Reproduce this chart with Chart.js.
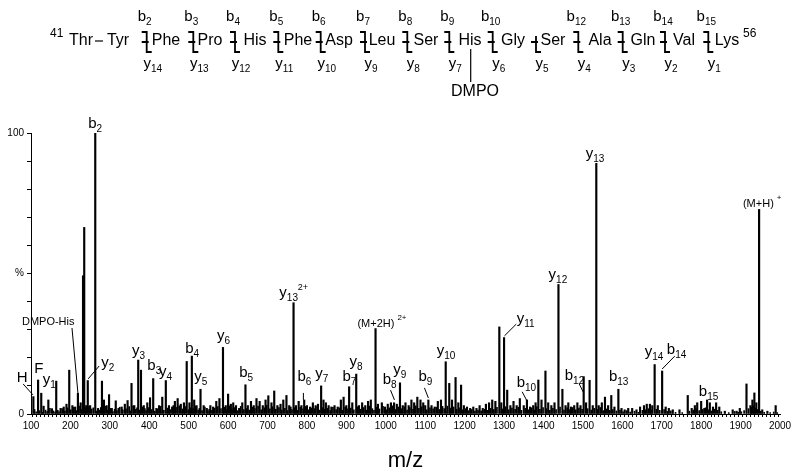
<!DOCTYPE html>
<html>
<head>
<meta charset="utf-8">
<script src="https://cdn.jsdelivr.net/npm/chart.js@4.4.1/dist/chart.umd.min.js"></script>
<style>
  html, body { margin: 0; padding: 0; background: #fff; }
  #wrap { width: 800px; height: 475px; }
</style>
</head>
<body>
<div id="wrap"><canvas id="spec" width="800" height="475"></canvas></div>
<script>
// peptide 41-56, DMPO on His50
const residues = ['Thr', 'Tyr', 'Phe', 'Pro', 'His', 'Phe', 'Asp', 'Leu', 'Ser', 'His', 'Gly', 'Ser', 'Ala', 'Gln', 'Val', 'Lys'];
const bIons = ['2', '3', '4', '5', '6', '7', '8', '9', '10', '', '12', '13', '14', '15'];
const yIons = ['14', '13', '12', '11', '10', '9', '8', '7', '6', '5', '4', '3', '2', '1'];

// x tick labels (m/z), y tick labels
const mzTicks = [100, 200, 300, 400, 500, 600, 700, 800, 900, 1000, 1100, 1200, 1300, 1400, 1500, 1600, 1700, 1800, 1900, 2000];
const pctTicks = { 0: '0', 50: '%', 100: '100' };

// main peaks [m/z, % relative intensity]
const peaks = [
  [106, 6.2], [118, 12.1], [126, 7.4], [132, 2.8], [144, 5.0], [153, 1.9], [164, 11.7], [175, 2.0], [183, 2.5],
  [190, 3.5], [197, 15.6], [205, 3.0], [212, 2.5], [219, 7.4], [226, 4.0], [232, 49.2], [235, 66.4], [240, 3.0],
  [244, 11.9], [250, 3.0], [263, 100], [270, 2.0], [280, 11.7], [285, 5.0], [292, 3.0], [298, 6.9], [305, 2.0],
  [315, 4.7], [322, 2.0], [330, 2.5], [338, 3.5], [345, 4.8], [355, 10.9], [362, 3.0], [372, 19.2], [379, 15.6],
  [386, 3.0], [395, 4.0], [402, 5.8], [410, 12.6], [418, 2.0], [425, 3.0], [433, 6.0], [442, 11.9], [450, 3.0],
  [458, 2.5], [465, 4.5], [472, 5.5], [480, 3.5], [488, 4.0], [495, 18.7], [502, 4.0], [508, 20.6], [514, 5.0],
  [520, 3.0], [530, 8.8], [538, 3.0], [546, 2.0], [555, 3.0], [562, 2.5], [570, 4.5], [578, 5.5], [587, 23.7],
  [594, 3.0], [600, 7.1], [607, 3.5], [613, 4.0], [620, 3.0], [628, 2.0], [636, 4.0], [644, 10.4], [650, 3.0],
  [658, 4.5], [665, 3.0], [672, 5.5], [680, 4.5], [688, 3.0], [695, 5.0], [702, 6.5], [710, 4.0], [717, 8.2],
  [725, 3.0], [733, 3.5], [740, 5.0], [748, 6.6], [755, 3.0], [766, 39.6], [772, 3.0], [779, 4.5], [786, 3.0],
  [793, 5.0], [800, 3.0], [808, 2.5], [815, 4.0], [822, 3.0], [828, 3.5], [836, 10.0], [842, 5.0], [848, 4.0],
  [855, 3.0], [862, 2.5], [870, 3.0], [878, 2.5], [886, 5.0], [893, 6.0], [900, 3.0], [907, 9.7], [915, 4.0],
  [925, 14.2], [932, 3.0], [940, 4.0], [948, 3.0], [955, 4.5], [962, 5.0], [974, 30.4], [980, 3.5], [990, 4.0],
  [998, 2.5], [1005, 3.5], [1013, 4.0], [1021, 4.0], [1028, 3.5], [1036, 11.1], [1043, 3.0], [1050, 4.0],
  [1058, 3.0], [1065, 5.0], [1072, 4.0], [1080, 6.0], [1088, 5.0], [1095, 4.0], [1100, 3.0], [1108, 5.0],
  [1116, 3.0], [1124, 2.5], [1132, 4.5], [1140, 5.0], [1152, 18.6], [1161, 10.9], [1168, 5.0], [1177, 13.0],
  [1184, 4.0], [1191, 10.3], [1198, 3.0], [1206, 2.5], [1214, 2.0], [1222, 2.5], [1230, 2.0], [1238, 3.0],
  [1246, 2.0], [1254, 3.5], [1262, 4.0], [1270, 5.0], [1278, 4.5], [1288, 31.0], [1293, 4.0], [1300, 27.2],
  [1308, 8.5], [1316, 3.0], [1324, 4.5], [1332, 3.0], [1340, 5.5], [1350, 3.0], [1358, 5.0], [1366, 2.5],
  [1374, 3.0], [1380, 4.0], [1387, 12.1], [1395, 5.0], [1405, 15.3], [1412, 4.0], [1420, 3.0], [1428, 4.0],
  [1438, 46.1], [1448, 8.8], [1456, 3.0], [1463, 4.0], [1470, 2.5], [1478, 3.0], [1486, 4.0], [1494, 3.0],
  [1502, 13.3], [1508, 4.0], [1517, 12.0], [1525, 3.0], [1534, 89.2], [1540, 3.0], [1548, 4.0], [1556, 6.0],
  [1564, 3.0], [1572, 6.6], [1580, 2.5], [1590, 8.8], [1598, 2.0], [1606, 1.5], [1615, 2.0], [1625, 2.0],
  [1636, 1.5], [1645, 2.5], [1655, 3.0], [1662, 3.5], [1670, 3.5], [1676, 3.0], [1682, 17.6], [1690, 3.0],
  [1701, 15.3], [1710, 2.5], [1718, 2.0], [1728, 1.5], [1745, 1.5], [1766, 6.6], [1776, 2.0], [1784, 3.0],
  [1790, 4.0], [1800, 4.5], [1808, 2.0], [1815, 5.0], [1822, 4.0], [1830, 2.5], [1838, 4.0], [1846, 2.5],
  [1860, 1.0], [1880, 1.5], [1890, 1.0], [1898, 2.0], [1915, 10.7], [1925, 3.0], [1930, 5.0], [1935, 7.5],
  [1940, 4.0], [1947, 72.8], [1955, 1.5], [1968, 1.0], [1989, 3.0]
];

// low-level chemical noise [m/z, %]
const grass = [
  [101, 1.0], [109, 1.6], [113, 0.8], [121, 1.2], [129, 0.6], [137, 1.4], [141, 0.9], [148, 2.0], [157, 1.1], [161, 0.7],
  [168, 1.3], [171, 0.8], [179, 1.9], [186, 1.0], [193, 2.2], [201, 1.5], [208, 2.4], [215, 1.2], [222, 2.8], [229, 1.6],
  [238, 2.1], [247, 2.6], [254, 1.8], [258, 2.2], [267, 1.0], [273, 1.4], [277, 2.3], [283, 1.1], [288, 2.7], [295, 1.3],
  [301, 2.0], [308, 0.9], [312, 1.7], [318, 1.2], [325, 2.4], [333, 1.5], [341, 1.8], [349, 2.6], [352, 1.1], [359, 2.9],
  [366, 1.7], [369, 2.2], [376, 1.4], [383, 2.5], [389, 1.9], [392, 1.2], [399, 2.3], [406, 1.6], [414, 1.0], [421, 1.8],
  [429, 2.7], [437, 1.3], [446, 2.1], [453, 1.6], [461, 3.0], [468, 2.4], [476, 2.9], [484, 1.8], [491, 2.6], [499, 1.5],
  [505, 2.2], [511, 1.9], [517, 2.8], [524, 1.4], [527, 2.0], [534, 1.2], [541, 2.5], [549, 1.1], [552, 1.7], [559, 1.3],
  [566, 2.1], [574, 2.6], [582, 1.9], [590, 2.4], [597, 1.5], [604, 2.9], [610, 1.8], [617, 2.3], [624, 1.2], [632, 2.7],
  [640, 1.6], [647, 2.0], [654, 1.4], [661, 2.5], [668, 1.9], [676, 2.8], [684, 1.5], [692, 2.2], [698, 3.1], [706, 1.8],
  [713, 2.6], [721, 1.7], [729, 2.3], [736, 1.4], [744, 2.0], [751, 1.2], [759, 2.5], [762, 1.6], [769, 2.2], [776, 1.3],
  [783, 2.4], [790, 1.8], [797, 2.7], [804, 1.5], [811, 2.1], [819, 1.9], [826, 2.6], [832, 1.4], [839, 2.3], [845, 1.7],
  [852, 2.0], [859, 1.2], [866, 2.4], [874, 1.6], [882, 2.2], [890, 1.3], [897, 2.5], [904, 1.8], [911, 2.1], [919, 1.5],
  [929, 2.6], [936, 1.7], [944, 2.3], [951, 1.4], [959, 2.8], [966, 1.9], [970, 1.3], [977, 2.4], [984, 1.8], [993, 2.7],
  [1001, 1.5], [1009, 2.2], [1017, 2.9], [1024, 1.6], [1032, 2.5], [1040, 1.9], [1047, 2.6], [1054, 1.4], [1061, 2.3],
  [1069, 1.7], [1076, 2.9], [1084, 2.0], [1091, 2.6], [1104, 1.5], [1112, 2.2], [1120, 1.8], [1128, 2.4], [1136, 1.6],
  [1144, 2.7], [1148, 1.9], [1156, 2.8], [1164, 2.1], [1172, 2.5], [1180, 1.7], [1188, 2.2], [1195, 1.5], [1202, 1.9],
  [1210, 1.2], [1218, 1.6], [1226, 1.0], [1234, 1.4], [1242, 1.1], [1250, 1.7], [1258, 1.3], [1266, 2.0], [1274, 1.6],
  [1282, 2.4], [1296, 1.8], [1304, 2.6], [1312, 1.5], [1320, 2.1], [1328, 1.7], [1336, 2.4], [1344, 1.3], [1354, 2.0],
  [1362, 1.5], [1370, 2.2], [1377, 1.4], [1383, 2.6], [1391, 1.7], [1399, 2.3], [1408, 1.9], [1416, 1.3], [1424, 2.0],
  [1432, 1.6], [1442, 2.5], [1452, 1.4], [1460, 2.2], [1467, 1.6], [1474, 2.3], [1482, 1.5], [1490, 2.1], [1498, 1.7],
  [1512, 1.9], [1521, 1.4], [1529, 2.0], [1537, 1.6], [1544, 2.3], [1552, 1.2], [1560, 1.8], [1568, 1.3], [1576, 1.6],
  [1585, 1.1], [1594, 1.4], [1602, 0.8], [1611, 1.2], [1620, 0.7], [1631, 1.0], [1641, 0.6], [1651, 1.3], [1659, 1.5],
  [1666, 1.9], [1673, 1.4], [1686, 1.7], [1695, 1.3], [1706, 1.6], [1714, 0.9], [1723, 1.1], [1735, 0.6], [1752, 0.5],
  [1770, 1.0], [1780, 1.4], [1787, 1.8], [1795, 1.2], [1804, 1.6], [1811, 2.2], [1819, 1.5], [1826, 1.1], [1834, 1.7],
  [1842, 1.3], [1851, 0.8], [1870, 0.5], [1885, 0.9], [1894, 0.6], [1902, 0.8], [1909, 1.2], [1920, 1.9], [1927, 2.4],
  [1933, 2.8], [1938, 2.0], [1943, 1.6], [1951, 1.0], [1960, 0.6], [1975, 0.5], [1984, 0.7], [1993, 0.5]
];

// peak annotations: text, subscript, superscript, anchor (m/z, %) of text start/baseline, optional leader line
const peakLabels = [
  { t: 'H', at: [64, 11.4], lead: [80, 10.7, 105, 6.8] },
  { t: 'F', at: [108, 14.6] },
  { t: 'y', sub: '1', at: [130, 10.7] },
  { t: 'DMPO-His', small: true, at: [77, 31.7], lead: [204, 30.6, 219, 7.5] },
  { t: 'y', sub: '2', at: [278, 16.7], lead: [273, 17.1, 245, 12.5] },
  { t: 'b', sub: '2', at: [245, 101.8] },
  { t: 'y', sub: '3', at: [356, 21.0] },
  { t: 'b', sub: '3', at: [395, 15.7] },
  { t: 'y', sub: '4', at: [425, 13.5] },
  { t: 'b', sub: '4', at: [491, 21.7] },
  { t: 'y', sub: '5', at: [514, 11.7] },
  { t: 'y', sub: '6', at: [572, 26.3] },
  { t: 'b', sub: '5', at: [628, 13.2] },
  { t: 'y', sub: '13', sup: '2+', at: [730, 41.6] },
  { t: 'b', sub: '6', at: [776, 11.7], lead: [791, 7.5, 791, 5.0] },
  { t: 'y', sub: '7', at: [821, 12.8] },
  { t: 'b', sub: '7', at: [890, 11.7] },
  { t: 'y', sub: '8', at: [908, 17.1] },
  { t: '(M+2H)', sup: '2+', small: true, at: [928, 31.0] },
  { t: 'b', sub: '8', at: [992, 10.7], lead: [1012, 8.5, 1022, 5.0] },
  { t: 'y', sub: '9', at: [1019, 14.2] },
  { t: 'b', sub: '9', at: [1083, 11.7], lead: [1098, 9.3, 1108, 5.7] },
  { t: 'y', sub: '10', at: [1129, 21.0] },
  { t: 'y', sub: '11', at: [1332, 32.4], lead: [1331, 32.0, 1301, 27.8] },
  { t: 'b', sub: '10', at: [1332, 9.6], lead: [1346, 7.9, 1358, 4.7] },
  { t: 'y', sub: '12', at: [1413, 48.0] },
  { t: 'b', sub: '12', at: [1454, 12.1], lead: [1490, 10.9, 1502, 7.5] },
  { t: 'y', sub: '13', at: [1507, 91.1] },
  { t: 'b', sub: '13', at: [1566, 11.7] },
  { t: 'y', sub: '14', at: [1657, 20.6] },
  { t: 'b', sub: '14', at: [1713, 21.4], lead: [1733, 20.6, 1701, 16.0] },
  { t: 'b', sub: '15', at: [1794, 6.4] },
  { t: '(M+H)', sup: '+', small: true, at: [1906, 73.7] }
];

const FONT = '"Liberation Sans", Arial, sans-serif';

function richText(ctx, x, y, t, sub, sup, big, small) {
  ctx.font = big + 'px ' + FONT;
  ctx.fillText(t, x, y);
  let w = ctx.measureText(t).width;
  if (sub) {
    ctx.font = small + 'px ' + FONT;
    ctx.fillText(sub, x + w, y + 4);
  }
  if (sup) {
    ctx.font = (small - 1) + 'px ' + FONT;
    ctx.fillText(sup, x + w + (sub ? ctx.measureText(sub).width + 1 : 3), y - 7);
  }
}

const sequencePlugin = {
  id: 'sequence',
  afterDraw(chart) {
    const ctx = chart.ctx;
    const resX = [81, 118, 166, 210, 255, 298, 339, 382, 426, 470, 513, 553, 600, 643, 684, 727];
    const cutX = [146.7, 193.3, 235, 278.3, 320.7, 365, 407.3, 449.3, 492.7, 536, 578.3, 622.7, 665, 708.3];
    ctx.save();
    ctx.fillStyle = '#000';
    ctx.strokeStyle = '#000';
    ctx.textBaseline = 'alphabetic';
    ctx.font = '16px ' + FONT;
    ctx.textAlign = 'center';
    residues.forEach((r, i) => ctx.fillText(r, resX[i], 45));
    ctx.textAlign = 'left';
    ctx.font = '12px ' + FONT;
    ctx.fillText('41', 50, 37);
    ctx.fillText('56', 743, 37);
    ctx.lineWidth = 1.2;
    ctx.beginPath();
    ctx.moveTo(95, 41); ctx.lineTo(103, 41);
    ctx.stroke();
    ctx.lineWidth = 1.8;
    cutX.forEach((cx, i) => {
      ctx.beginPath();
      if (bIons[i]) {
        ctx.moveTo(cx - 5, 32); ctx.lineTo(cx, 32); ctx.lineTo(cx, 52);
      } else {
        ctx.moveTo(cx, 36); ctx.lineTo(cx, 52);
      }
      ctx.lineTo(cx + 5, 52);
      ctx.moveTo(cx - 5, 42); ctx.lineTo(cx + 2, 42);
      ctx.stroke();
      if (bIons[i]) {
        ctx.font = '15px ' + FONT;
        const w = ctx.measureText('b').width;
        ctx.font = '10px ' + FONT;
        const ws = ctx.measureText(bIons[i]).width;
        richText(ctx, cx - 2 - (w + ws) / 2, 21, 'b', bIons[i], '', 15, 10);
      }
      ctx.font = '15px ' + FONT;
      const wy = ctx.measureText('y').width;
      ctx.font = '10px ' + FONT;
      const wys = ctx.measureText(yIons[i]).width;
      richText(ctx, cx + 6 - (wy + wys) / 2, 68, 'y', yIons[i], '', 15, 10);
    });
    // DMPO adduct on His50
    ctx.lineWidth = 1.2;
    ctx.beginPath();
    ctx.moveTo(470.7, 49); ctx.lineTo(470.7, 82);
    ctx.stroke();
    ctx.font = '16px ' + FONT;
    ctx.textAlign = 'center';
    ctx.fillText('DMPO', 475, 96);
    ctx.restore();
  }
};

const labelPlugin = {
  id: 'peakLabels',
  afterDatasetsDraw(chart) {
    const ctx = chart.ctx;
    const xs = chart.scales.x, ys = chart.scales.y;
    ctx.save();
    ctx.fillStyle = '#000';
    ctx.strokeStyle = '#000';
    ctx.lineWidth = 1;
    ctx.textAlign = 'left';
    ctx.textBaseline = 'alphabetic';
    peakLabels.forEach(l => {
      const x = xs.getPixelForValue(l.at[0]);
      const y = ys.getPixelForValue(l.at[1]);
      if (l.small) richText(ctx, x, y, l.t, l.sub, l.sup, 11, 9);
      else richText(ctx, x, y, l.t, l.sub, l.sup, 15, 10);
      if (l.lead) {
        ctx.beginPath();
        ctx.moveTo(xs.getPixelForValue(l.lead[0]), ys.getPixelForValue(l.lead[1]));
        ctx.lineTo(xs.getPixelForValue(l.lead[2]), ys.getPixelForValue(l.lead[3]));
        ctx.stroke();
      }
    });
    ctx.restore();
  }
};

new Chart(document.getElementById('spec'), {
  type: 'bar',
  data: {
    datasets: [
      {
        data: grass.map(p => ({ x: p[0], y: p[1] })),
        backgroundColor: '#000',
        barThickness: 1,
        grouped: false
      },
      {
        data: peaks.map(p => ({ x: p[0], y: p[1] })),
        backgroundColor: '#000',
        barThickness: 1.5,
        grouped: false
      }
    ]
  },
  options: {
    responsive: false,
    animation: false,
    layout: { padding: { top: 133, right: 20, bottom: 0, left: 0 } },
    plugins: { legend: { display: false }, tooltip: { enabled: false } },
    scales: {
      x: {
        type: 'linear',
        min: 100,
        max: 2000,
        offset: false,
        grid: { drawOnChartArea: false, tickLength: 3, color: '#000', tickColor: '#000' },
        border: { color: '#000', width: 1 },
        ticks: {
          stepSize: 10,
          autoSkip: false,
          maxRotation: 0,
          padding: 3,
          color: '#000',
          font: { family: '"Liberation Sans Narrow", "Liberation Sans", Arial', size: 10 },
          callback: v => (mzTicks.includes(v) ? String(v) : '')
        },
        title: { display: true, text: 'm/z', color: '#000', font: { family: FONT, size: 22 }, padding: { top: 0, bottom: 1 } },
        afterFit(s) { s.height = 61; }
      },
      y: {
        min: 0,
        max: 100,
        grid: { drawOnChartArea: false, tickLength: 4, color: '#000', tickColor: '#000' },
        border: { color: '#000', width: 1 },
        ticks: {
          stepSize: 10,
          padding: 3,
          color: '#000',
          font: { family: FONT, size: 10 },
          callback: v => (v in pctTicks ? pctTicks[v] : '')
        },
        afterFit(s) { s.width = 31; }
      }
    }
  },
  plugins: [labelPlugin, sequencePlugin]
});
</script>
</body>
</html>
